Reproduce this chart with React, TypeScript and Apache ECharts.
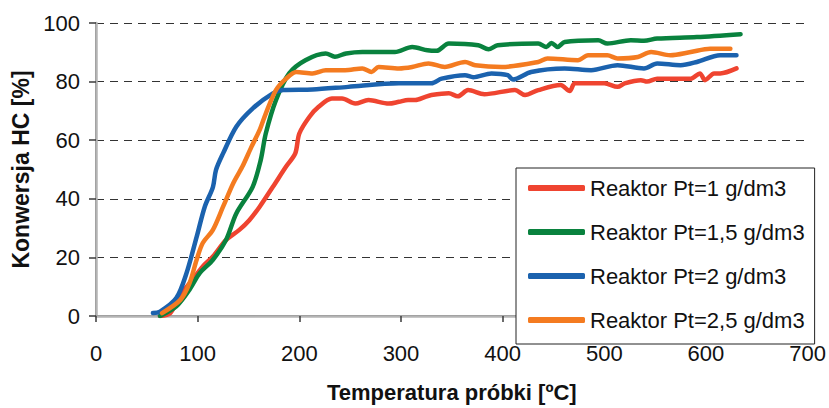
import React, { useEffect, useRef } from "react";
import * as echarts from "echarts";

const seriesNames = [
  "Reaktor Pt=1 g/dm3",
  "Reaktor Pt=1,5 g/dm3",
  "Reaktor Pt=2 g/dm3",
  "Reaktor Pt=2,5 g/dm3",
];
const seriesColors = ["#EF4430", "#09823E", "#1B62AE", "#F47B20"];

const xTicks = [0, 100, 200, 300, 400, 500, 600, 700];
const yTicks = [0, 20, 40, 60, 80, 100];

const redData: [number, number][] = [
  [63, 0], [73, 1], [82, 6.7], [95, 12.4], [105, 16.9], [115, 20.3], [128, 26], [141, 29.4],
  [151, 32.8], [161, 37.3], [174, 44.1], [187, 51], [196, 55.5], [200, 62.3], [210, 68],
  [219, 71.4], [232, 74.2], [242, 74.2], [255, 72.5], [268, 73.7], [288, 72.5], [298, 73.1],
  [307, 73.7], [314, 73.7], [324, 74.8], [330, 75.4], [347, 76], [356, 75], [366, 77.1],
  [382, 75.7], [412, 77.1], [422, 75.4], [435, 77.1], [457, 78.8], [466, 76.8], [471, 79.4],
  [500, 79.4], [513, 78.2], [520, 79.4], [536, 80.5], [542, 80], [552, 81], [585, 81],
  [594, 82.8], [599, 80.5], [608, 82.8], [614, 82.8], [630, 84.5],
];

const greenData: [number, number][] = [
  [63, 0], [79, 3.3], [92, 9], [102, 14.6], [115, 19.2], [128, 26], [138, 35], [154, 44],
  [162, 53.2], [167, 62.3], [177, 73.7], [190, 82.8], [206, 87.3], [226, 89.6], [235, 88.5],
  [246, 89.6], [262, 90.1], [294, 90.1], [311, 91.8], [326, 90.7], [335, 90.5], [347, 93],
  [376, 92.4], [386, 91], [395, 92.4], [435, 93], [443, 91.8], [448, 93.2], [454, 91.8],
  [461, 93.5], [494, 94.1], [503, 93], [526, 94.1], [539, 93.9], [552, 94.7], [591, 95.2],
  [634, 96.2],
];

const blueData: [number, number][] = [
  [56, 1], [63, 1.5], [79, 6.1], [89, 14.6], [99, 27], [107, 37.3], [115, 44], [118, 49.8],
  [125, 55.5], [138, 64.6], [154, 70.8], [174, 76], [184, 77.1], [213, 77.3], [248, 78.2],
  [298, 79.4], [330, 79.4], [340, 81], [363, 82.2], [371, 81.5], [389, 82.8], [405, 82.2],
  [410, 80.7], [428, 83.3], [461, 84.5], [487, 83.9], [513, 85.6], [539, 84.5], [552, 86.2],
  [575, 85.6], [591, 86.7], [614, 89], [630, 89],
];

const orangeData: [number, number][] = [
  [65, 1], [83, 5.5], [92, 11.2], [99, 19.2], [105, 24.9], [115, 29.4], [125, 37.3],
  [135, 45.3], [144, 51], [153, 57.8], [161, 63.5], [167, 69.1], [177, 77.1], [187, 81],
  [197, 83.3], [213, 82.8], [226, 83.9], [245, 83.9], [262, 84.5], [271, 83.3], [278, 85],
  [298, 84.5], [311, 85], [327, 86.2], [343, 85], [363, 86.7], [373, 85.6], [399, 85],
  [435, 86.7], [444, 87.9], [474, 87.3], [484, 89], [503, 89], [513, 87.9], [533, 88.4],
  [546, 90.1], [565, 89], [585, 90.1], [604, 91.2], [624, 91.2],
];

const allData = [redData, greenData, blueData, orangeData];

const FONT = "'Liberation Sans', Arial, sans-serif";

export default function App() {
  const ref = useRef<HTMLDivElement>(null);
  useEffect(() => {
    if (!ref.current) return;
    const chart = echarts.init(ref.current, null, { renderer: "svg" });
    chart.setOption({
      animation: false,
      backgroundColor: "#ffffff",
      textStyle: { fontFamily: FONT },
      grid: { left: 96, right: 18, top: 23, bottom: 92, show: false },
      legend: {
        orient: "vertical",
        left: 516,
        top: 168,
        data: seriesNames.map((n) => ({ name: n, icon: "roundRect" })),
        itemWidth: 57,
        itemHeight: 6,
        itemGap: 22,
        padding: [9, 10, 13, 12],
        backgroundColor: "#ffffff",
        borderColor: "#222222",
        borderWidth: 1,
        borderRadius: 0,
        textStyle: { fontSize: 22, color: "#111", fontFamily: FONT, lineHeight: 22 },
        z: 10,
      },
      xAxis: [
        {
          type: "value",
          min: xTicks[0],
          max: xTicks[xTicks.length - 1],
          interval: 100,
          name: "Temperatura próbki [ºC]",
          nameLocation: "middle",
          nameGap: 65,
          nameTextStyle: { fontSize: 22, fontWeight: "bold", color: "#111", fontFamily: FONT },
          axisLine: { show: true, lineStyle: { color: "#3a3a3a", width: 1.5 } },
          axisTick: { show: true, length: 6, lineStyle: { color: "#3a3a3a", width: 1.5 } },
          axisLabel: { fontSize: 22, color: "#111", margin: 26, fontFamily: FONT },
          splitLine: { show: false },
        },
        {
          type: "value",
          position: "top",
          min: 0,
          max: 700,
          interval: 100,
          axisLine: { show: true, lineStyle: { color: "#b4b4b4", width: 2.5 } },
          axisTick: { show: false },
          axisLabel: { show: false },
          splitLine: { show: false },
        },
      ],
      yAxis: [
        {
          type: "value",
          min: yTicks[0],
          max: yTicks[yTicks.length - 1],
          interval: 20,
          name: "Konwersja HC [%]",
          nameLocation: "middle",
          nameGap: 62,
          nameRotate: 90,
          nameTextStyle: { fontSize: 23, fontWeight: "bold", color: "#111", fontFamily: FONT },
          axisLine: { show: true, lineStyle: { color: "#3a3a3a", width: 1.5 } },
          axisTick: { show: true, length: 7, lineStyle: { color: "#3a3a3a", width: 1.5 } },
          axisLabel: { fontSize: 22, color: "#111", margin: 16, fontFamily: FONT },
          splitLine: {
            show: true,
            lineStyle: { color: "#333333", width: 1, type: [8, 6] },
          },
        },
        {
          type: "value",
          position: "right",
          min: 0,
          max: 100,
          interval: 20,
          axisLine: { show: true, lineStyle: { color: "#b4b4b4", width: 2.5 } },
          axisTick: { show: false },
          axisLabel: { show: false },
          splitLine: { show: false },
        },
      ],
      series: allData.map((d, i) => ({
        name: seriesNames[i],
        type: "line",
        data: d,
        xAxisIndex: 0,
        yAxisIndex: 0,
        showSymbol: false,
        symbol: "none",
        smooth: 0.3,
        color: seriesColors[i],
        lineStyle: { color: seriesColors[i], width: 4.5, cap: "round", join: "round" },
      })),
    });
    return () => chart.dispose();
  }, []);
  return (
    <div
      ref={ref}
      style={{ position: "fixed", left: 0, top: 0, width: 829, height: 408 }}
    />
  );
}
